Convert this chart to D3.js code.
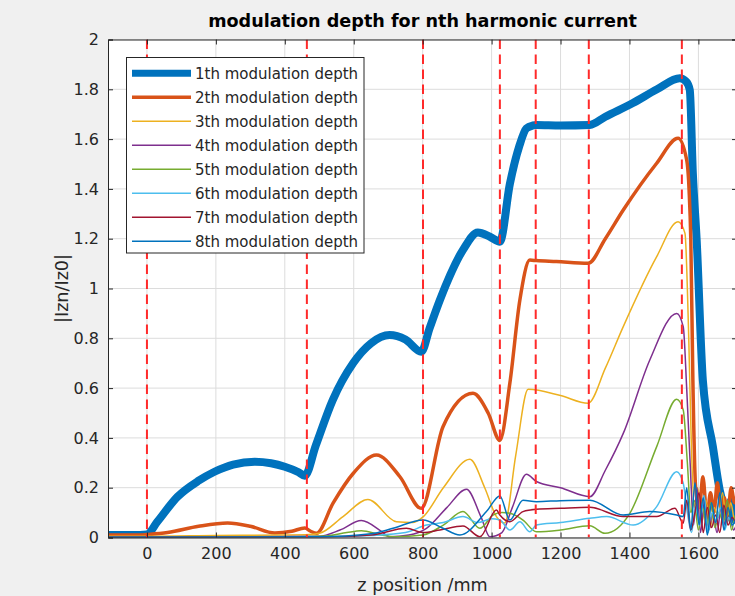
<!DOCTYPE html>
<html>
<head>
<meta charset="utf-8">
<script src="https://cdn.jsdelivr.net/npm/d3@7"></script>
<style>
  html, body { margin: 0; padding: 0; background: #f0f0f0; }
  svg { display: block; font-family: "DejaVu Sans", sans-serif; }
</style>
</head>
<body>
<svg id="chart" width="735" height="596"></svg>
<script>
// ---------------- data ----------------
const titleText = "modulation depth for nth harmonic current";
const xLabel = "z position /mm";
const yLabel = "|Izn/Iz0|";
const xTicks = [0, 200, 400, 600, 800, 1000, 1200, 1400, 1600];
const yTicks = [0, 0.2, 0.4, 0.6, 0.8, 1, 1.2, 1.4, 1.6, 1.8, 2];
const markerLines = [0, 464, 801, 1024, 1128, 1282, 1552];
const seriesNames = ["1th modulation depth","2th modulation depth","3th modulation depth","4th modulation depth",
                     "5th modulation depth","6th modulation depth","7th modulation depth","8th modulation depth"];
const seriesColors = ["#0072BD","#D95319","#EDB120","#7E2F8E","#77AC30","#4DBEEE","#A2142F","#0072BD"];

const s1x = [-113,-20,0,30,89,150,196,250,313,360,400,440,458,490,539,598,650,704,750,796,820,850,917,960,995,1024,1053,1080,1101,1120,1130,1200,1285,1330,1410,1480,1546,1565,1575,1584,1595,1613,1642,1662,1675,1685,1695,1705,1712];
const s1y = [0.01,0.01,0.012,0.063,0.164,0.228,0.264,0.293,0.304,0.298,0.284,0.262,0.248,0.37,0.552,0.70,0.78,0.813,0.795,0.746,0.84,0.954,1.155,1.225,1.208,1.188,1.42,1.57,1.643,1.655,1.657,1.655,1.657,1.69,1.745,1.80,1.844,1.83,1.797,1.46,1.195,0.63,0.365,0.19,0.12,0.08,0.15,0.07,0.12];

const s2x = [-113,-20,0,60,150,234,300,371,420,458,475,492,540,600,666,734,796,859,946,990,1024,1053,1082,1111,1130,1188,1280,1330,1382,1479,1541,1566,1573,1578,1584,1592,1603,1613,1625,1635,1645,1655,1665,1675,1685,1695,1705,1712];
const s2y = [0.01,0.01,0.012,0.02,0.045,0.058,0.045,0.018,0.025,0.038,0.025,0.017,0.138,0.26,0.331,0.244,0.117,0.445,0.579,0.50,0.39,0.62,0.954,1.114,1.112,1.108,1.101,1.20,1.315,1.503,1.603,1.516,1.395,1.195,0.63,0.2,0.12,0.244,0.08,0.18,0.1,0.22,0.12,0.16,0.09,0.2,0.14,0.17];

const s3x = [-113,0,200,400,470,501,569,641,724,770,802,860,937,980,1014,1038,1070,1106,1200,1280,1330,1382,1479,1541,1561,1572,1580,1588,1598,1610,1622,1634,1646,1658,1670,1682,1694,1705,1712];
const s3y = [0.005,0.005,0.008,0.01,0.012,0.017,0.084,0.153,0.063,0.06,0.084,0.2,0.314,0.2,0.084,0.058,0.33,0.595,0.57,0.539,0.68,0.847,1.128,1.268,1.222,0.8,0.35,0.12,0.2,0.06,0.15,0.04,0.12,0.08,0.18,0.05,0.14,0.07,0.1];

const s4x = [-113,0,300,500,560,622,680,704,760,811,870,927,970,995,1030,1060,1101,1130,1200,1285,1330,1382,1459,1537,1556,1566,1576,1586,1596,1606,1618,1630,1642,1654,1666,1678,1690,1702,1712];
const s4y = [0.003,0.003,0.003,0.005,0.03,0.068,0.025,0.003,0.01,0.037,0.12,0.194,0.08,0.003,0.02,0.12,0.254,0.225,0.2,0.164,0.27,0.418,0.713,0.9,0.847,0.6,0.3,0.05,0.2,0.02,0.15,0.03,0.1,0.02,0.12,0.05,0.09,0.03,0.06];

const s5x = [-113,0,400,520,580,622,680,720,800,860,917,966,1004,1030,1053,1091,1130,1200,1285,1329,1401,1479,1537,1556,1568,1578,1588,1600,1612,1624,1636,1648,1660,1672,1684,1696,1708,1712];
const s5y = [0.002,0.002,0.003,0.006,0.02,0.027,0.01,0.003,0.01,0.05,0.104,0.037,0.09,0.1,0.097,0.07,0.023,0.03,0.047,0.017,0.097,0.365,0.555,0.512,0.3,0.1,0.15,0.03,0.12,0.05,0.14,0.04,0.1,0.06,0.15,0.03,0.09,0.07];

const s6x = [-113,0,500,650,750,811,860,917,960,1000,1024,1053,1082,1111,1130,1200,1285,1334,1411,1479,1537,1556,1568,1580,1592,1604,1616,1628,1640,1652,1664,1676,1688,1700,1712];
const s6y = [0.001,0.001,0.002,0.008,0.02,0.05,0.06,0.084,0.06,0.075,0.07,0.03,0.063,0.023,0.05,0.06,0.077,0.084,0.05,0.124,0.264,0.218,0.1,0.02,0.13,0.05,0.17,0.02,0.1,0.06,0.12,0.03,0.08,0.05,0.1];

const s7x = [-113,0,500,650,753,800,850,917,966,1014,1024,1053,1091,1130,1200,1285,1382,1479,1532,1556,1566,1578,1590,1602,1614,1626,1638,1650,1662,1674,1686,1698,1712];
const s7y = [0.001,0.001,0.002,0.01,0.037,0.02,0.03,0.046,0.003,0.11,0.09,0.063,0.104,0.113,0.117,0.121,0.084,0.084,0.117,0.057,0.15,0.03,0.1,0.18,0.02,0.12,0.04,0.09,0.02,0.13,0.05,0.08,0.04];

const s8x = [-113,0,500,650,714,801,859,908,985,1024,1053,1091,1130,1200,1285,1382,1459,1537,1556,1566,1578,1590,1602,1614,1626,1638,1650,1662,1674,1686,1698,1712];
const s8y = [0.001,0.001,0.003,0.015,0.037,0.07,0.037,0.01,0.104,0.167,0.07,0.15,0.144,0.148,0.15,0.09,0.104,0.09,0.084,0.2,0.03,0.22,0.05,0.16,0.01,0.14,0.06,0.18,0.03,0.12,0.05,0.09];

const seriesX = [s1x,s2x,s3x,s4x,s5x,s6x,s7x,s8x];
const seriesY = [s1y,s2y,s3y,s4y,s5y,s6y,s7y,s8y];
const seriesWidths = [8, 3.5, 1.5, 1.5, 1.5, 1.5, 1.5, 1.5];

// ---------------- chart ----------------
const svg = d3.select("#chart");
const L = 108, R = 737, T = 39.5, B = 537.5;
const x = d3.scaleLinear().domain([-113, 1712]).range([L, R]);
const y = d3.scaleLinear().domain([0, 2]).range([B, T]);
const axisColor = "#262626";
const fmt = d => String(+d.toFixed(1));

svg.append("rect").attr("width", 735).attr("height", 596).attr("fill", "#f0f0f0");
svg.append("rect").attr("x", L).attr("y", T).attr("width", R - L).attr("height", B - T).attr("fill", "#ffffff");

// grid
const grid = svg.append("g");
grid.selectAll("line.gx").data(xTicks).join("line")
  .attr("x1", d => x(d)).attr("x2", d => x(d)).attr("y1", T).attr("y2", B)
  .attr("stroke", "#dcdcdc").attr("stroke-width", 1);
grid.selectAll("line.gy").data(yTicks).join("line")
  .attr("x1", L).attr("x2", R).attr("y1", d => y(d)).attr("y2", d => y(d))
  .attr("stroke", "#dcdcdc").attr("stroke-width", 1);

svg.append("clipPath").attr("id", "clip")
  .append("rect").attr("x", L).attr("y", T).attr("width", R - L).attr("height", B - T);

const plot = svg.append("g").attr("clip-path", "url(#clip)");
const line = d3.line().x(d => x(d[0])).y(d => y(d[1])).curve(d3.curveMonotoneX);

seriesX.forEach((xs, i) => {
  const pts = xs.map((v, j) => [v, seriesY[i][j]]);
  plot.append("path").datum(pts)
    .attr("d", line)
    .attr("fill", "none")
    .attr("stroke", seriesColors[i])
    .attr("stroke-width", seriesWidths[i])
    .attr("stroke-linejoin", "round")
    .attr("stroke-linecap", "round");
});

// red dashed markers
plot.selectAll("line.mk").data(markerLines).join("line")
  .attr("x1", d => x(d)).attr("x2", d => x(d)).attr("y1", T).attr("y2", B)
  .attr("stroke", "#ff2a2a").attr("stroke-width", 2).attr("stroke-dasharray", "9.5,5.5");

// axes
const gx = svg.append("g").attr("transform", `translate(0,${B})`)
  .call(d3.axisBottom(x).tickValues(xTicks).tickSize(-5).tickPadding(10).tickFormat(fmt));
const gxTop = svg.append("g").attr("transform", `translate(0,${T})`)
  .call(d3.axisTop(x).tickValues(xTicks).tickSize(-5).tickFormat(""));
const gy = svg.append("g").attr("transform", `translate(${L},0)`)
  .call(d3.axisLeft(y).tickValues(yTicks).tickSize(-5).tickPadding(9).tickFormat(fmt));
const gyR = svg.append("g").attr("transform", `translate(${R},0)`)
  .call(d3.axisRight(y).tickValues(yTicks).tickSize(-5).tickFormat(""));
[gx, gxTop, gy, gyR].forEach(g => {
  g.select(".domain").attr("stroke", axisColor).attr("stroke-width", 1);
  g.selectAll(".tick line").attr("stroke", axisColor);
  g.selectAll(".tick text").attr("fill", axisColor)
    .style("font-family", "DejaVu Sans, sans-serif").style("font-size", "16px");
});

// labels
svg.append("text").attr("x", (L + R) / 2).attr("y", 27).attr("text-anchor", "middle")
  .style("font-size", "17.6px").style("font-weight", "bold").attr("fill", "#000")
  .text(titleText);
svg.append("text").attr("x", (L + R) / 2).attr("y", 591).attr("text-anchor", "middle")
  .style("font-size", "17.6px").attr("fill", axisColor).text(xLabel);
svg.append("text").attr("transform", `translate(68,${(T + B) / 2}) rotate(-90)`)
  .attr("text-anchor", "middle").style("font-size", "17.6px").attr("fill", axisColor).text(yLabel);

// legend
const lg = svg.append("g");
lg.append("rect").attr("x", 126.5).attr("y", 57.5).attr("width", 237.5).attr("height", 195.5)
  .attr("fill", "#fff").attr("stroke", axisColor).attr("stroke-width", 1);
seriesNames.forEach((n, i) => {
  const yy = 73.3 + i * 24;
  lg.append("line").attr("x1", 132).attr("x2", 191).attr("y1", yy).attr("y2", yy)
    .attr("stroke", seriesColors[i]).attr("stroke-width", i === 0 ? 7 : (i === 1 ? 3.5 : 1.5));
  lg.append("text").attr("x", 195).attr("y", yy).attr("dy", "0.36em")
    .style("font-size", "15px").attr("fill", axisColor).text(n);
});
</script>
</body>
</html>
